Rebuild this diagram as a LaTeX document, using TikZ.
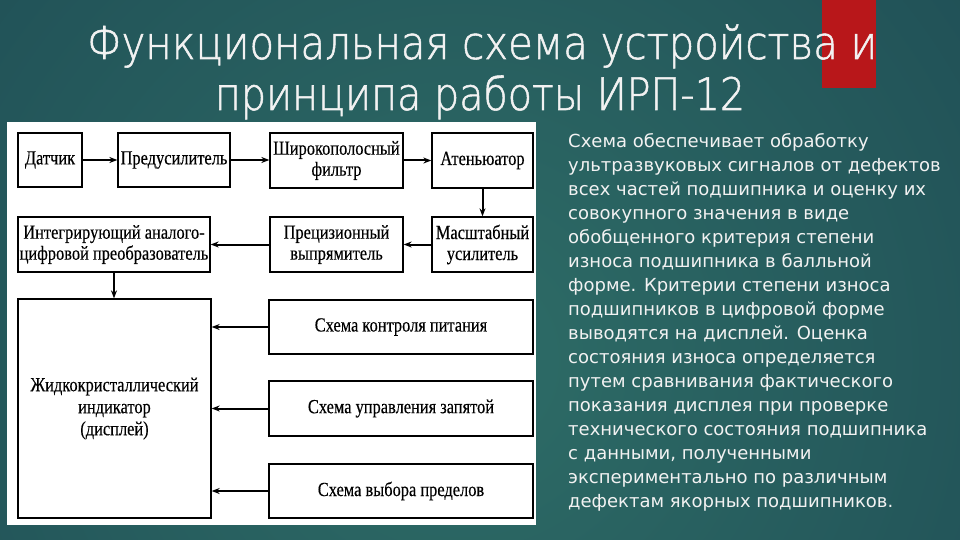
\documentclass[tikz,border=0pt]{standalone}
\usepackage{fontspec}
\usepackage{graphicx}
\setmainfont{Liberation Serif}
\newfontfamily\diagfont[FakeStretch=0.82,FakeBold=0.3]{Liberation Serif}
\newfontfamily\bodyfont{DejaVu Sans}
\IfFontExistsTF{DejaVu Sans ExtraLight}{\newfontfamily\titlefont[FakeBold=1.2]{DejaVu Sans ExtraLight}}{\newfontfamily\titlefont{DejaVu Sans}}
\usetikzlibrary{arrows.meta}
\definecolor{bgin}{HTML}{2E6D67}
\definecolor{bgout}{HTML}{163A4A}
\definecolor{redbar}{HTML}{B8171A}
\definecolor{txt}{HTML}{F2F2F2}
\pgfdeclareradialshading{bgshade}{\pgfpoint{0bp}{0bp}}{color(0bp)=(bgin); color(30bp)=(bgout); color(50bp)=(bgout)}
\begin{document}
\begin{tikzpicture}[x=1pt,y=-1pt,
  box/.style={draw=black, line width=1.3pt, fill=white, inner sep=0pt, align=center,
    font=\diagfont\fontsize{20}{21}\selectfont},
  conn/.style={-{Stealth[length=8pt,width=6pt]}, line width=2pt},
  ttl/.style={text=txt, inner sep=0pt, anchor=base},
  body/.style={text=txt, inner sep=0pt, anchor=north west, align=left,
    font=\bodyfont\fontsize{18}{24}\selectfont}]
\useasboundingbox (0,0) rectangle (960,540);
\fill[bgout] (0,0) rectangle (960,540);
\begin{scope}
  \clip (0,0) rectangle (960,540);
  \shade[shading=bgshade] (460,360) circle (950pt);
\end{scope}
\fill[redbar] (822,0) rectangle (876,88);
\node[ttl] (t1) at (482,59) {\scalebox{1}[1.13]{\resizebox{790pt}{!}{\titlefont Функциональная схема устройства и}}};
\node[ttl] (t2) at (480,110) {\scalebox{1}[1.13]{\resizebox{530pt}{!}{\titlefont принципа работы ИРП-12}}};
\fill[white] (7,122) rectangle (536,525);
\node[box, minimum width=64pt, minimum height=54pt] (d) at (50,160) {Датчик};
\node[box, minimum width=112pt, minimum height=54pt] (pre) at (174,160) {Предусилитель};
\node[box, minimum width=133pt, minimum height=55pt] (filt) at (336.5,160.5) {Широкополосный\\фильтр};
\node[box, minimum width=101pt, minimum height=55pt] (att) at (482.5,160.5) {Атеньюатор};
\node[box, minimum width=192pt, minimum height=55pt] (adc) at (114,244.5) {Интегрирующий аналого-\\цифровой преобразователь};
\node[box, minimum width=133pt, minimum height=55pt] (rect) at (336.5,244.5) {Прецизионный\\выпрямитель};
\node[box, minimum width=101pt, minimum height=55pt] (scale) at (482.5,244.5) {Масштабный\\усилитель};
\node[box, minimum width=193pt, minimum height=219pt, font=\diagfont\fontsize{20}{22}\selectfont] (lcd) at (114.5,408.5) {Жидкокристаллический\\индикатор\\(дисплей)};
\node[box, minimum width=264pt, minimum height=54pt] (pw) at (401,327) {Схема контроля питания};
\node[box, minimum width=264pt, minimum height=55pt] (comma) at (401,408.5) {Схема управления запятой};
\node[box, minimum width=264pt, minimum height=54pt] (lim) at (401,491) {Схема выбора пределов};
\draw[conn] (d.east) -- (pre.west);
\draw[conn] (pre.east) -- (pre.east -| filt.west);
\draw[conn] (filt.east) -- (att.west);
\draw[conn] (att.south) -- (scale.north);
\draw[conn] (scale.west) -- (rect.east);
\draw[conn] (rect.west) -- (adc.east);
\draw[conn] (adc.south) -- (adc.south |- lcd.north);
\draw[conn] (pw.west) -- (pw.west -| lcd.east);
\draw[conn] (comma.west) -- (comma.west -| lcd.east);
\draw[conn] (lim.west) -- (lim.west -| lcd.east);
\node[body] (txt) at (568,133.5) {Схема обеспечивает обработку\\
ультразвуковых сигналов от дефектов\\
всех частей подшипника и оценку их\\
совокупного значения в виде\\
обобщенного критерия степени\\
износа подшипника в балльной\\
форме. Критерии степени износа\\
подшипников в цифровой форме\\
выводятся на дисплей. Оценка\\
состояния износа определяется\\
путем сравнивания фактического\\
показания дисплея при проверке\\
технического состояния подшипника\\
с данными, полученными\\
экспериментально по различным\\
дефектам якорных подшипников.};
\end{tikzpicture}
\end{document}
